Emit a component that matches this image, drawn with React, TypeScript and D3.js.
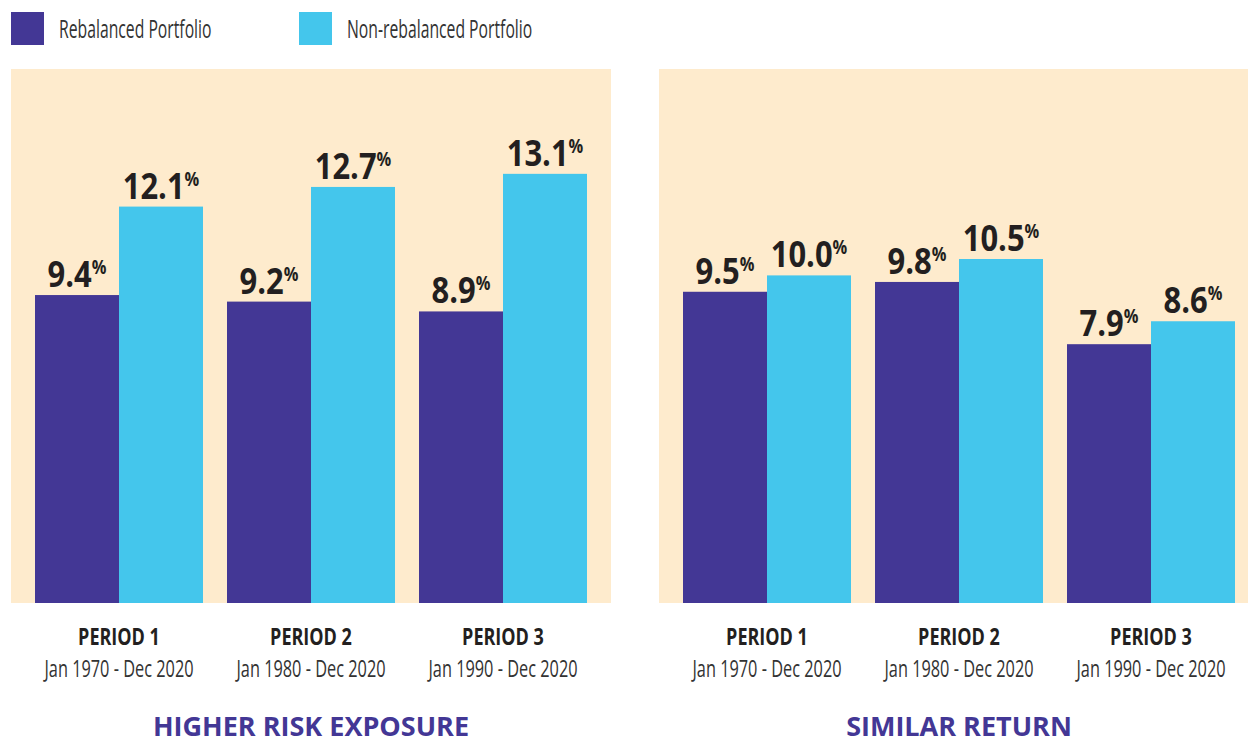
import React from 'react';
import * as d3 from 'd3';

const seriesNames = ['Rebalanced Portfolio', 'Non-rebalanced Portfolio'];
const periods = ['PERIOD 1', 'PERIOD 2', 'PERIOD 3'];
const periodRanges = ['Jan 1970 - Dec 2020', 'Jan 1980 - Dec 2020', 'Jan 1990 - Dec 2020'];
const panelTitles = ['HIGHER RISK EXPOSURE', 'SIMILAR RETURN'];

// risk (volatility) per period
const riskRebalanced = [9.4, 9.2, 8.9];
const riskNonRebalanced = [12.1, 12.7, 13.1];
// annualised return per period
const returnRebalanced = [9.5, 9.8, 7.9];
const returnNonRebalanced = [10.0, 10.5, 8.6];

const panelValues = [
  [riskRebalanced, riskNonRebalanced],
  [returnRebalanced, returnNonRebalanced],
];

const COLORS = ['#433795', '#44c6ec'];
const PANEL_BG = '#feebcd';
const DARK = '#231f20';
const LIGHT_TEXT = '#333333';

const W = 1248;
const H = 738;
const FONT = "'Open Sans', sans-serif";

export default function App() {
  const panelX = d3.scaleBand<number>()
    .domain([0, 1])
    .range([11, 1259])
    .paddingInner(48 / 648);

  const panelW = panelX.bandwidth();
  const top = 69;
  const bottom = 603;

  const x0 = d3.scaleBand<string>()
    .domain(periods)
    .range([24, panelW - 24])
    .paddingInner(0.125);

  const x1 = d3.scaleBand<string>()
    .domain(seriesNames)
    .range([0, x0.bandwidth()]);

  const y = d3.scaleLinear().domain([0, 16.3]).range([bottom, top]);

  return (
    <div>
      <style>{`body{margin:0;background:#fff}`}</style>
      <svg width={W} height={H} style={{ display: 'block', fontFamily: FONT }}>
        <rect width={W} height={H} fill="#fff" />

        {/* legend */}
        {seriesNames.map((s, i) => {
          const lx = i === 0 ? 11 : 299;
          return (
            <g key={s}>
              <rect x={lx} y={12} width={33} height={33} fill={COLORS[i]} />
              <text
                transform={`translate(${lx + 48},38) scale(0.63,1)`}
                fontSize={25}
                fontWeight={400}
                fill={LIGHT_TEXT}
              >
                {s}
              </text>
            </g>
          );
        })}

        {panelTitles.map((title, p) => {
          const px = panelX(p) as number;
          return (
            <g key={title} transform={`translate(${px},0)`}>
              <rect x={0} y={top} width={panelW} height={bottom - top} fill={PANEL_BG} />

              {periods.map((per, gi) => {
                const gx = x0(per) as number;
                const cx = gx + x0.bandwidth() / 2;
                return (
                  <g key={per}>
                    {seriesNames.map((s, si) => {
                      const v = panelValues[p][si][gi];
                      const bx = gx + (x1(s) as number);
                      const bw = x1.bandwidth();
                      return (
                        <g key={s}>
                          <rect x={bx} y={y(v)} width={bw} height={bottom - y(v)} fill={COLORS[si]} />
                          <text
                            transform={`translate(${bx + bw / 2},${y(v) - 8}) scale(0.86,1)`}
                            textAnchor="middle"
                            fontSize={36}
                            fontWeight={700}
                            fill={DARK}
                          >
                            {v.toFixed(1)}
                            <tspan fontSize={19} dy={-13}>%</tspan>
                          </text>
                        </g>
                      );
                    })}
                    <text
                      transform={`translate(${cx},645) scale(0.75,1)`}
                      textAnchor="middle"
                      fontSize={24}
                      fontWeight={700}
                      fill={DARK}
                    >
                      {per}
                    </text>
                    <text
                      transform={`translate(${cx},677) scale(0.68,1)`}
                      textAnchor="middle"
                      fontSize={24}
                      fontWeight={400}
                      fill={LIGHT_TEXT}
                    >
                      {periodRanges[gi]}
                    </text>
                  </g>
                );
              })}

              <text
                x={panelW / 2}
                y={736}
                textAnchor="middle"
                fontSize={27}
                fontWeight={700}
                fill={COLORS[0]}
              >
                {title}
              </text>
            </g>
          );
        })}
      </svg>
    </div>
  );
}
